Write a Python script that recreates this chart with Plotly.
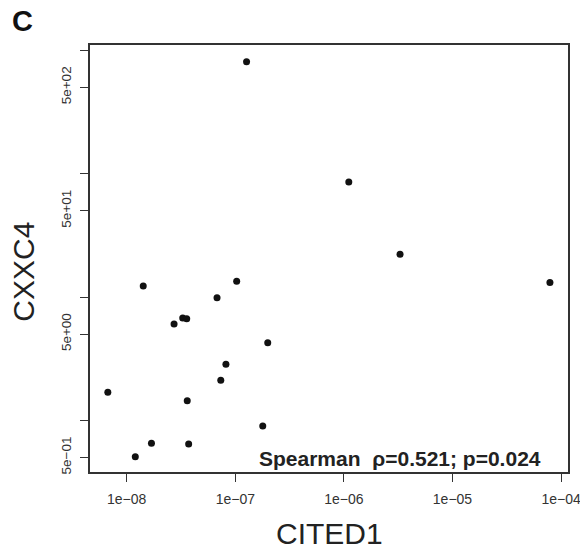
import plotly.graph_objects as go
import numpy as np

# Data
cited1 = [6.7e-9, 1.42e-8, 1.2e-8, 1.69e-8, 2.73e-8, 3.28e-8, 3.57e-8, 3.61e-8, 3.72e-8,
          6.79e-8, 1.03e-7, 7.35e-8, 8.2e-8, 1.99e-7, 1.79e-7, 1.27e-7, 1.11e-6, 3.29e-6, 7.9e-5]
cxxc4 = [1.69, 12.3, 0.507, 0.652, 6.04, 6.75, 6.66, 1.44, 0.643,
         9.86, 13.4, 2.12, 2.85, 4.26, 0.90, 806, 85.4, 22.2, 13.1]

x_tickvals = [1e-8, 1e-7, 1e-6, 1e-5, 1e-4]
x_ticktext = ["1e\u221208", "1e\u221207", "1e\u221206", "1e\u221205", "1e\u221204"]
y_tickvals = [0.5, 1, 5, 10, 50, 100, 500, 1000]
y_ticktext = ["5e\u221201", "", "5e+00", "", "5e+01", "", "5e+02", ""]

FONT = "Arial, Liberation Sans, Helvetica, sans-serif"
LINE = "#333333"

fig = go.Figure()
fig.add_trace(go.Scatter(
    x=cited1, y=cxxc4, mode="markers",
    marker=dict(size=7, color="#111111"),
    showlegend=False, hoverinfo="skip"))

fig.update_layout(
    width=580, height=554,
    margin=dict(l=90, r=12, t=45, b=82, autoexpand=False),
    paper_bgcolor="white", plot_bgcolor="white",
    font=dict(family=FONT, color="#222222"),
    xaxis=dict(type="log", range=[-8.338, -3.936], automargin=False,
               tickvals=x_tickvals, ticktext=x_ticktext, ticklabeloverflow="allow",
               ticks="outside", ticklen=8, tickwidth=1.2, tickcolor=LINE,
               ticklabelstandoff=5,
               showline=True, linecolor=LINE, linewidth=1.5, mirror=True,
               showgrid=False, zeroline=False,
               tickfont=dict(size=14, family=FONT, color="#333333")),
    yaxis=dict(type="log", range=[-0.418, 3.042], automargin=False,
               tickvals=y_tickvals, ticktext=y_ticktext, ticklabeloverflow="allow",
               ticks="outside", ticklen=8, tickwidth=1.2, tickcolor=LINE,
               ticklabelstandoff=4,
               showline=True, linecolor=LINE, linewidth=1.5, mirror=True,
               showgrid=False, zeroline=False, tickangle=-90,
               tickfont=dict(size=13.5, family=FONT, color="#333333")),
    annotations=[
        dict(text="CITED1", xref="paper", yref="paper", x=0.502, y=-0.145,
             xanchor="center", yanchor="middle", showarrow=False,
             font=dict(size=30, family=FONT, color="#222222")),
        dict(text="CXXC4", xref="paper", yref="paper", x=-0.139, y=0.468,
             xanchor="center", yanchor="middle", showarrow=False, textangle=-90,
             font=dict(size=30, family=FONT, color="#222222")),
        dict(text="<b>Spearman\u00a0 \u03c1=0.521; p=0.024</b>", xref="x", yref="paper",
             x=-4.167, y=(472 - 458) / 427, xanchor="right", yanchor="middle",
             showarrow=False, font=dict(size=21, family=FONT, color="#222222")),
        dict(text="<b>C</b>", xref="paper", yref="paper",
             x=(10 - 90) / 478, y=(472 - 21) / 427, xanchor="left", yanchor="middle",
             showarrow=False, font=dict(size=29, family=FONT, color="#111111")),
    ],
)

fig.write_html("out.html")
